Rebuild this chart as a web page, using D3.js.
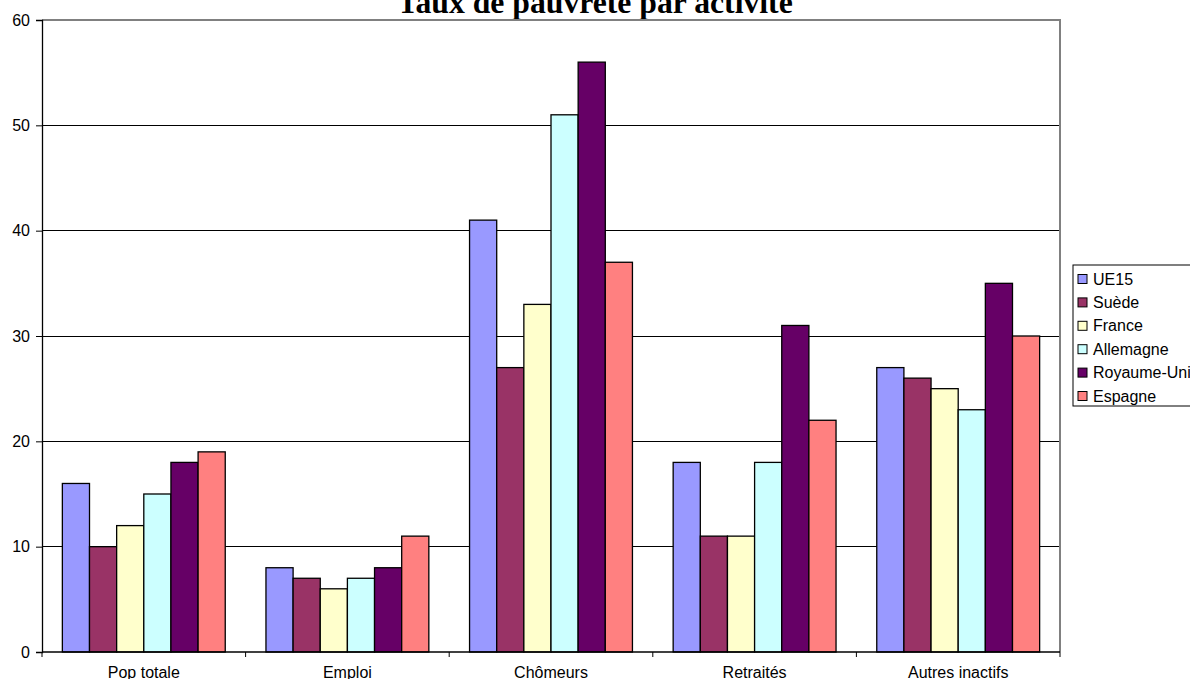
<!DOCTYPE html>
<html>
<head>
<meta charset="utf-8">
<script src="https://cdn.jsdelivr.net/npm/d3@7"></script>
<style>
	body { margin: 0; background: #fff; overflow: hidden; }
	svg { display: block; }
</style>
</head>
<body>
<svg id="chart"></svg>
<script>
const categories = ['Pop totale', 'Emploi', 'Chômeurs', 'Retraités', 'Autres inactifs']
const seriesNames = ['UE15', 'Suède', 'France', 'Allemagne', 'Royaume-Uni', 'Espagne']
const seriesColors = ['#9999ff', '#993366', '#ffffcc', '#ccffff', '#660066', '#ff8080']

// values per series, in category order
const ue15 = [16, 8, 41, 18, 27]
const suede = [10, 7, 27, 11, 26]
const france = [12, 6, 33, 11, 25]
const allemagne = [15, 7, 51, 18, 23]
const royaumeUni = [18, 8, 56, 31, 35]
const espagne = [19, 11, 37, 22, 30]

const yTicks = [0, 10, 20, 30, 40, 50, 60]
const title = 'Taux de pauvreté par activité'

const seriesValues = [ue15, suede, france, allemagne, royaumeUni, espagne]

const W = 1190, H = 679
const margin = { top: 20, right: 130, bottom: 27, left: 42 }
const width = 1060 - margin.left
const height = 652 - margin.top

const root = d3.select('#chart').attr('width', W).attr('height', H)

// title (centred on the whole chart area, top is cut off)
root.append('text')
	.attr('x', W / 2)
	.attr('y', 13)
	.attr('text-anchor', 'middle')
	.style('font-family', '"Liberation Serif", "Times New Roman", serif')
	.style('font-weight', 'bold')
	.style('font-size', '31.7px')
	.text(title)

const svg = root.append('g')
	.attr('transform', `translate(${margin.left},${margin.top})`)

const x0 = d3.scaleBand().domain(categories).range([0, width])
const x1 = d3.scaleBand().domain(seriesNames).range([0, x0.bandwidth()])
	.paddingInner(0).paddingOuter(0.75)
const y = d3.scaleLinear().domain([0, 60]).range([height, 0])

// gridlines
svg.append('g')
	.selectAll('line')
	.data(yTicks.filter((d) => d > 0 && d < 60))
	.join('line')
	.attr('x1', 0)
	.attr('x2', width)
	.attr('y1', (d) => y(d))
	.attr('y2', (d) => y(d))
	.attr('stroke', '#000')
	.attr('stroke-width', 1)
	.attr('shape-rendering', 'crispEdges')

// plot area border (top + right in grey)
svg.append('path')
	.attr('d', `M0,${y(60)}H${width}V${height}`)
	.attr('fill', 'none')
	.attr('stroke', '#808080')
	.attr('stroke-width', 2)

// bars
const rows = categories.map((c, i) => ({
	cat: c,
	vals: seriesNames.map((s, j) => ({ s, v: seriesValues[j][i], color: seriesColors[j] })),
}))

svg.append('g')
	.selectAll('g')
	.data(rows)
	.join('g')
	.attr('transform', (d) => `translate(${x0(d.cat)},0)`)
	.selectAll('rect')
	.data((d) => d.vals)
	.join('rect')
	.attr('x', (d) => x1(d.s))
	.attr('y', (d) => y(d.v))
	.attr('width', x1.bandwidth())
	.attr('height', (d) => height - y(d.v))
	.attr('fill', (d) => d.color)
	.attr('stroke', '#000')
	.attr('stroke-width', 1.3)

// y axis
const yAxis = svg.append('g')
	.call(d3.axisLeft(y).tickValues(yTicks).tickSize(6).tickPadding(6))
yAxis.select('.domain').attr('stroke', '#000').attr('stroke-width', 1.3)
yAxis.selectAll('text')
	.style('font-family', '"Liberation Sans", Arial, sans-serif')
	.style('font-size', '16px')
	.attr('fill', '#000')

// x axis: ticks at category boundaries, labels centred
const xAxis = svg.append('g').attr('transform', `translate(0,${height})`)
xAxis.append('line')
	.attr('x1', 0).attr('x2', width)
	.attr('stroke', '#000').attr('stroke-width', 1.3)
xAxis.selectAll('.tk')
	.data(categories.concat(['end']))
	.join('line')
	.attr('class', 'tk')
	.attr('x1', (d) => (d === 'end' ? width : x0(d)))
	.attr('x2', (d) => (d === 'end' ? width : x0(d)))
	.attr('y1', 0).attr('y2', 5)
	.attr('stroke', '#000')
xAxis.selectAll('text')
	.data(categories)
	.join('text')
	.attr('x', (d) => x0(d) + x0.bandwidth() / 2)
	.attr('y', 26)
	.attr('text-anchor', 'middle')
	.style('font-family', '"Liberation Sans", Arial, sans-serif')
	.style('font-size', '16px')
	.text((d) => d)

// legend
const legend = root.append('g').attr('transform', 'translate(1073,265)')
legend.append('rect')
	.attr('width', 140).attr('height', 141)
	.attr('fill', '#fff').attr('stroke', '#000')
const items = legend.selectAll('g')
	.data(seriesNames)
	.join('g')
	.attr('transform', (d, i) => `translate(5,${14 + i * 23.4})`)
items.append('rect')
	.attr('x', 0).attr('y', -4.5)
	.attr('width', 9).attr('height', 9)
	.attr('fill', (d, i) => seriesColors[i])
	.attr('stroke', '#000')
items.append('text')
	.attr('x', 15).attr('y', 5.5)
	.style('font-family', '"Liberation Sans", Arial, sans-serif')
	.style('font-size', '16px')
	.text((d) => d)
</script>
</body>
</html>
